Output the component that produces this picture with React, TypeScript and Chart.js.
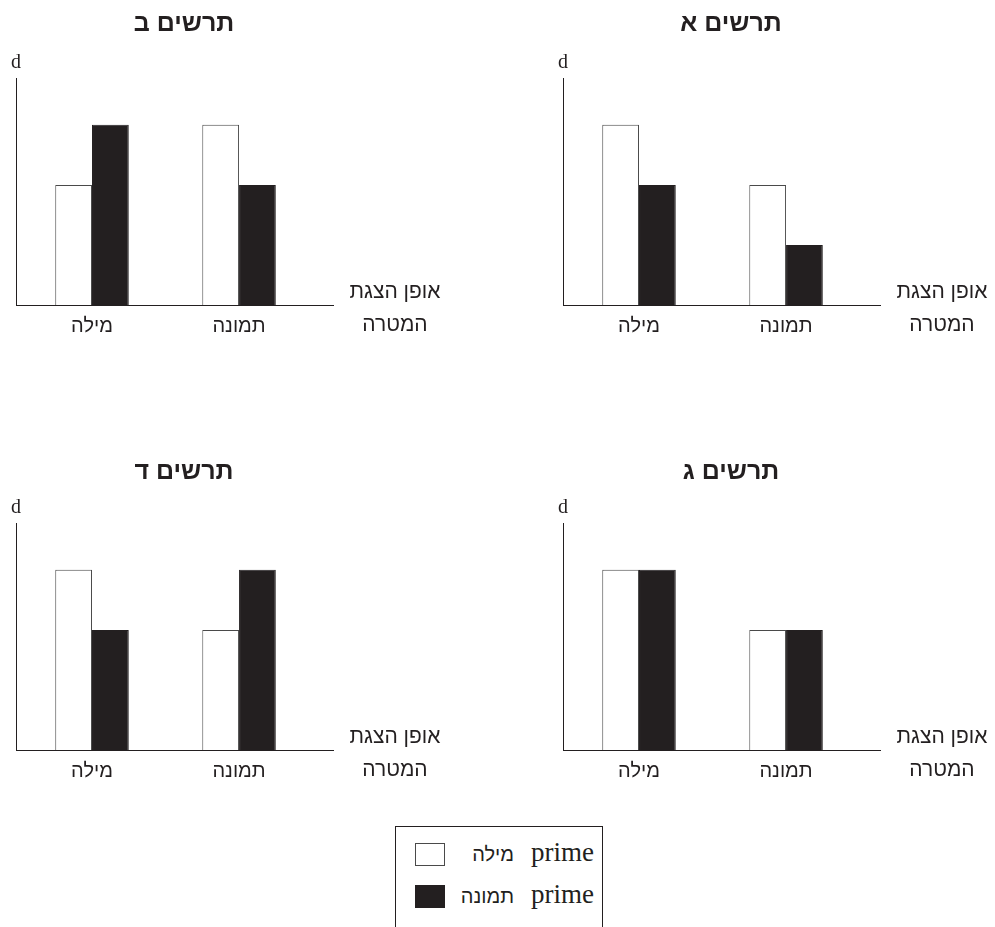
import React, { useEffect, useRef } from 'react';
import { Chart, registerables } from 'chart.js';

Chart.register(...registerables);

// ---------- data ----------
const categories = ['מילה', 'תמונה'];
const seriesLabels = ['prime מילה', 'prime תמונה'];
const seriesFill = ['#ffffff', '#231f20'];
const seriesBorder = ['#4a4a4a', '#231f20'];

const titleA = 'תרשים א';
const titleB = 'תרשים ב';
const titleC = 'תרשים ג';
const titleD = 'תרשים ד';

const wordPrimeA = [3, 2];
const picturePrimeA = [2, 1];
const wordPrimeB = [2, 3];
const picturePrimeB = [3, 2];
const wordPrimeC = [3, 2];
const picturePrimeC = [3, 2];
const wordPrimeD = [3, 2];
const picturePrimeD = [2, 3];

const yAxisLabel = 'd';
const xAxisLabelLines = ['אופן הצגת', 'המטרה'];
const yMax = 3.78;

// ---------- style ----------
const INK = '#231f20';
const HEB = '"Liberation Sans", "DejaVu Sans", sans-serif';
const LAT = '"Liberation Serif", "DejaVu Serif", serif';
const CANVAS_W = 448;
const CANVAS_H = 350;

const axisTextPlugin = {
  id: 'axisText',
  afterDraw(chart: any, _args: any, opts: any) {
    const { ctx, chartArea } = chart;
    ctx.save();
    ctx.fillStyle = INK;
    ctx.textAlign = 'center';
    ctx.textBaseline = 'alphabetic';
    ctx.font = `20px ${LAT}`;
    ctx.fillText(opts.yLabel, chartArea.left, chartArea.top - 10);
    ctx.font = `21px ${HEB}`;
    const cx = chartArea.right + 62;
    ctx.fillText(opts.xLines[0], cx, chartArea.bottom - 7);
    ctx.fillText(opts.xLines[1], cx, chartArea.bottom + 26);
    ctx.restore();
  },
};

type PanelProps = {
  title: string;
  word: number[];
  picture: number[];
  left: number;
  top: number;
  titlePadTop: number;
};

function Panel({ title, word, picture, left, top, titlePadTop }: PanelProps) {
  const ref = useRef<HTMLCanvasElement>(null);
  useEffect(() => {
    const values = [word, picture];
    const titleSize = 25;
    const titleLine = titleSize * 1.2;
    const chart = new Chart(ref.current as HTMLCanvasElement, {
      type: 'bar',
      data: {
        datasets: values.map((arr, s) => ({
          label: seriesLabels[s],
          data: arr.map((v, i) => ({ x: i + 1, y: v })),
          backgroundColor: seriesFill[s],
          borderColor: seriesBorder[s],
          borderWidth: 1,
          categoryPercentage: 0.5,
          barPercentage: 1.0,
        })),
      },
      options: {
        animation: false,
        responsive: false,
        devicePixelRatio: 1,
        layout: { padding: { left: 0, right: 80, top: 0, bottom: 0 } },
        plugins: {
          legend: { display: false },
          tooltip: { enabled: false },
          title: {
            display: true,
            text: title,
            color: INK,
            font: { family: HEB, size: titleSize, weight: 'bold' },
            padding: { top: titlePadTop, bottom: 78 - titleLine - titlePadTop },
          },
          axisText: { yLabel: yAxisLabel, xLines: xAxisLabelLines },
        } as any,
        scales: {
          x: {
            type: 'linear',
            offset: false,
            min: 0.483,
            max: 2.639,
            grid: { display: false, drawTicks: false, offset: false },
            border: { display: true, color: INK, width: 1, z: 1 },
            afterBuildTicks: (s: any) => {
              s.ticks = categories.map((_, i) => ({ value: i + 1 }));
            },
            afterFit: (s: any) => {
              s.height = 45;
            },
            ticks: {
              autoSkip: false,
              maxRotation: 0,
              padding: 9,
              color: INK,
              font: { family: HEB, size: 20 },
              callback: (v: any) => categories[Math.round(Number(v)) - 1] ?? '',
            },
          },
          y: {
            type: 'linear',
            position: 'left',
            min: 0,
            max: yMax,
            grid: { display: false, drawTicks: false },
            border: { display: true, color: INK, width: 1, z: 1 },
            ticks: { display: false },
            afterFit: (s: any) => {
              s.width = 16;
            },
          },
          yRight: {
            type: 'linear',
            position: 'right',
            grid: { display: false, drawTicks: false },
            border: { display: false },
            ticks: { display: false },
            afterFit: (s: any) => {
              s.width = 35;
            },
          },
        } as any,
      },
      plugins: [axisTextPlugin],
    } as any);
    return () => chart.destroy();
  }, []);
  return (
    <canvas
      ref={ref}
      width={CANVAS_W}
      height={CANVAS_H}
      style={{ position: 'absolute', left, top, width: CANVAS_W, height: CANVAS_H }}
    />
  );
}

function Legend() {
  return (
    <div
      style={{
        position: 'absolute',
        left: 395,
        top: 826,
        width: 208,
        height: 101,
        boxSizing: 'border-box',
        borderTop: `1px solid ${INK}`,
        borderLeft: `1px solid ${INK}`,
        borderRight: `1px solid ${INK}`,
      }}
    >
      {seriesLabels.map((lbl, i) => (
        <div key={lbl} style={{ position: 'absolute', left: 0, right: 0, top: 16 + i * 42, height: 24 }}>
          <div
            style={{
              position: 'absolute',
              left: 19,
              top: 0,
              width: 30,
              height: 23,
              boxSizing: 'border-box',
              background: seriesFill[i],
              border: `1px solid ${seriesBorder[i]}`,
            }}
          />
          <div
            dir="rtl"
            style={{
              position: 'absolute',
              right: 8,
              top: -8,
              display: 'flex',
              alignItems: 'baseline',
              gap: 17,
              whiteSpace: 'nowrap',
              color: INK,
              lineHeight: '34px',
            }}
          >
            {lbl.split(' ').map((tok, k) => (
              <span
                key={k}
                style={
                  /[A-Za-z]/.test(tok)
                    ? { fontFamily: LAT, fontSize: 27 }
                    : { fontFamily: HEB, fontSize: 20 }
                }
              >
                {tok}
              </span>
            ))}
          </div>
        </div>
      ))}
    </div>
  );
}

export default function App() {
  return (
    <div style={{ position: 'absolute', left: 0, top: 0, width: 995, height: 927, overflow: 'hidden', background: '#fff' }}>
      <Panel title={titleB} word={wordPrimeB} picture={picturePrimeB} left={0} top={0} titlePadTop={9} />
      <Panel title={titleA} word={wordPrimeA} picture={picturePrimeA} left={547} top={0} titlePadTop={9} />
      <Panel title={titleD} word={wordPrimeD} picture={picturePrimeD} left={0} top={445} titlePadTop={12} />
      <Panel title={titleC} word={wordPrimeC} picture={picturePrimeC} left={547} top={445} titlePadTop={12} />
      <Legend />
    </div>
  );
}
